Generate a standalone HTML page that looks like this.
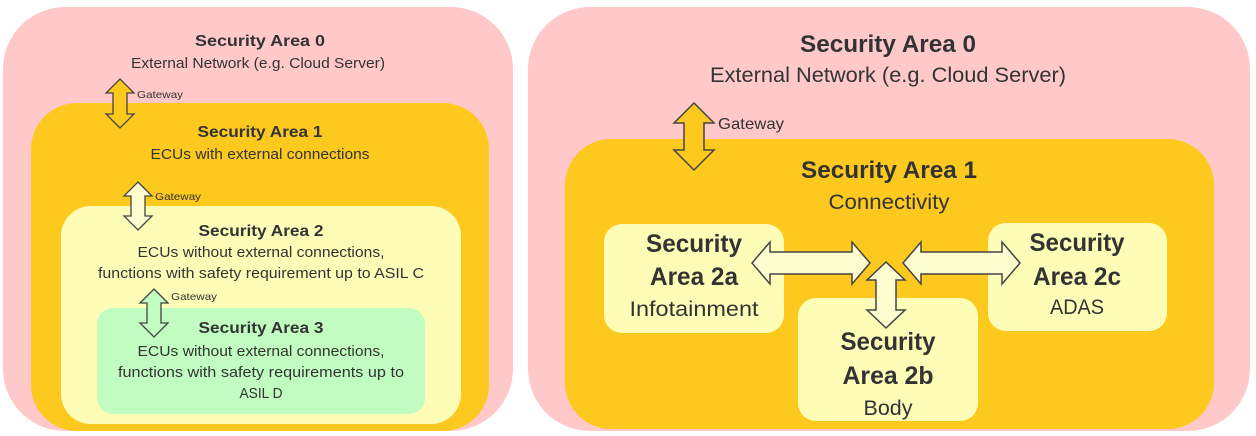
<!DOCTYPE html>
<html><head><meta charset="utf-8"><style>
html,body{margin:0;padding:0;background:#fff;}
svg{display:block;}
text{font-family:"Liberation Sans",sans-serif;fill:#333;}
.b{font-weight:bold;}
</style></head><body>
<svg width="1256" height="436" viewBox="0 0 1256 436" xmlns="http://www.w3.org/2000/svg">
<!-- Left diagram -->
<rect x="3" y="7" width="510" height="424" rx="62" fill="#ffc9c9"/>
<rect x="31" y="103" width="458" height="328" rx="46" fill="#fdc91f"/>
<rect x="61" y="206" width="400" height="218" rx="30" fill="#fefdb8"/>
<rect x="97" y="308" width="328" height="106" rx="16" fill="#c1fdc1"/>
<g text-anchor="middle" lengthAdjust="spacingAndGlyphs">
<text x="260" y="46" font-size="16" class="b" textLength="130" lengthAdjust="spacingAndGlyphs">Security Area 0</text>
<text x="258" y="68" font-size="15" textLength="254" lengthAdjust="spacingAndGlyphs">External Network (e.g. Cloud Server)</text>
<text x="260" y="137" font-size="16" class="b" textLength="125" lengthAdjust="spacingAndGlyphs">Security Area 1</text>
<text x="260" y="159" font-size="15" textLength="219" lengthAdjust="spacingAndGlyphs">ECUs with external connections</text>
<text x="261" y="236" font-size="16" class="b" textLength="125" lengthAdjust="spacingAndGlyphs">Security Area 2</text>
<text x="261" y="257" font-size="15" textLength="247" lengthAdjust="spacingAndGlyphs">ECUs without external connections,</text>
<text x="261" y="278" font-size="15" textLength="326" lengthAdjust="spacingAndGlyphs">functions with safety requirement up to ASIL C</text>
<text x="261" y="333" font-size="16" class="b" textLength="125" lengthAdjust="spacingAndGlyphs">Security Area 3</text>
<text x="261" y="356" font-size="15" textLength="247" lengthAdjust="spacingAndGlyphs">ECUs without external connections,</text>
<text x="261" y="377" font-size="15" textLength="286" lengthAdjust="spacingAndGlyphs">functions with safety requirements up to</text>
<text x="261" y="398" font-size="15" textLength="43" lengthAdjust="spacingAndGlyphs">ASIL D</text>
</g>
<g stroke="#444" stroke-width="1.3" stroke-linejoin="miter">
<polygon points="120,79 134,93 127,93 127,114 134,114 120,128 106,114 113,114 113,93 106,93" fill="#fdc91f"/>
<polygon points="138,182 152,196 145,196 145,216 152,216 138,230 124,216 131,216 131,196 124,196" fill="#fefdd0"/>
<polygon points="154,289 168,303 161,303 161,323 168,323 154,337 140,323 147,323 147,303 140,303" fill="#c1fdc1"/>
</g>
<text x="137" y="98" font-size="10.5" textLength="46" lengthAdjust="spacingAndGlyphs">Gateway</text>
<text x="155" y="200" font-size="10.5" textLength="46" lengthAdjust="spacingAndGlyphs">Gateway</text>
<text x="171" y="300" font-size="10.5" textLength="46" lengthAdjust="spacingAndGlyphs">Gateway</text>

<!-- Right diagram -->
<rect x="528" y="7" width="722" height="424" rx="62" fill="#ffc9c9"/>
<rect x="565" y="139" width="649" height="290" rx="46" fill="#fdc91f"/>
<rect x="604" y="224" width="180" height="109" rx="18" fill="#fefdb8"/>
<rect x="798" y="298" width="180" height="123" rx="18" fill="#fefdb8"/>
<rect x="988" y="223" width="179" height="108" rx="18" fill="#fefdb8"/>
<g text-anchor="middle">
<text x="888" y="52" font-size="24" class="b" textLength="176" lengthAdjust="spacingAndGlyphs">Security Area 0</text>
<text x="888" y="82" font-size="21" textLength="356" lengthAdjust="spacingAndGlyphs">External Network (e.g. Cloud Server)</text>
<text x="889" y="178" font-size="24" class="b" textLength="176" lengthAdjust="spacingAndGlyphs">Security Area 1</text>
<text x="889" y="209" font-size="21" textLength="121" lengthAdjust="spacingAndGlyphs">Connectivity</text>
<text x="694" y="252" font-size="25" class="b" textLength="96" lengthAdjust="spacingAndGlyphs">Security</text>
<text x="694" y="285" font-size="25" class="b" textLength="88" lengthAdjust="spacingAndGlyphs">Area 2a</text>
<text x="694" y="316" font-size="21" textLength="129" lengthAdjust="spacingAndGlyphs">Infotainment</text>
<text x="888" y="350" font-size="25" class="b" textLength="95" lengthAdjust="spacingAndGlyphs">Security</text>
<text x="888" y="384" font-size="25" class="b" textLength="91" lengthAdjust="spacingAndGlyphs">Area 2b</text>
<text x="888" y="415" font-size="21" textLength="49" lengthAdjust="spacingAndGlyphs">Body</text>
<text x="1077" y="251" font-size="25" class="b" textLength="95" lengthAdjust="spacingAndGlyphs">Security</text>
<text x="1077" y="285" font-size="25" class="b" textLength="88" lengthAdjust="spacingAndGlyphs">Area 2c</text>
<text x="1077" y="314" font-size="21" textLength="54" lengthAdjust="spacingAndGlyphs">ADAS</text>
</g>
<g stroke="#444" stroke-width="1.5" stroke-linejoin="miter">
<polygon points="694,103 714,123 704,123 704,150 714,150 694,170 674,150 684,150 684,123 674,123" fill="#fdc91f"/>
<polygon points="752,263 770,242 770,252 852,252 852,242 870,263 852,284 852,274 770,274 770,284" fill="#fefdd0"/>
<polygon points="903,263 921,242 921,252 1002,252 1002,242 1020,263 1002,284 1002,274 921,274 921,284" fill="#fefdd0"/>
<polygon points="886,262 905,280 896,280 896,310 905,310 886,328 867,310 876,310 876,280 867,280" fill="#fefdd0"/>
</g>
<text x="718" y="129" font-size="16" textLength="66" lengthAdjust="spacingAndGlyphs">Gateway</text>
</svg>
</body></html>
